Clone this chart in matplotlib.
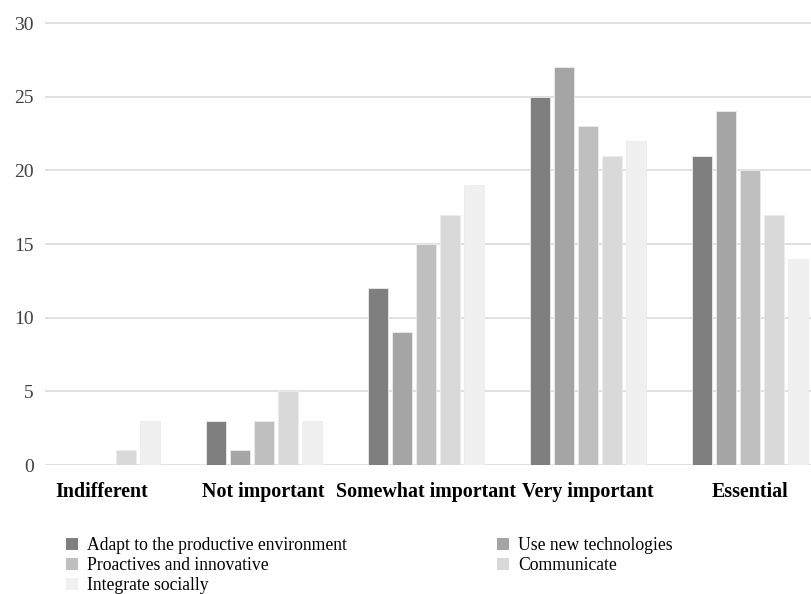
import numpy as np
from matplotlib import pyplot as plt
from matplotlib.patches import Patch

plt.rcParams['font.family'] = ['Liberation Serif', 'DejaVu Serif']

categories = ["Indifferent", "Not important", "Somewhat important", "Very important", "Essential"]

adapt = [0, 3, 12, 25, 21]
use_tech = [0, 1, 9, 27, 24]
proactive = [0, 3, 15, 23, 20]
communicate = [1, 5, 17, 21, 17]
integrate = [3, 3, 19, 22, 14]

series_names = ["Adapt to the productive environment", "Use new technologies",
                "Proactives and innovative", "Communicate", "Integrate socially"]
series_colors = ["#7f7f7f", "#a5a5a5", "#bfbfbf", "#d9d9d9", "#f0f0f0"]


def plot_skills():
    series = [adapt, use_tech, proactive, communicate, integrate]

    fig = plt.figure(figsize=(8.11, 5.94), dpi=100)
    ax = fig.add_axes([45 / 811, 1 - 465 / 594, 1 - 45 / 811, 443 / 594])

    x = np.arange(len(categories))
    step = 0.148
    width = 0.1234
    handles = []
    for k, (vals, name, col) in enumerate(zip(series, series_names, series_colors)):
        ax.bar(x + (k - 2) * step, vals, width=width, color=col,
               edgecolor='#ececec', linewidth=0.6, zorder=3)
        handles.append(Patch(facecolor=col, edgecolor='none', label=name))

    ax.set_xlim(-0.349, 4.375)
    ax.set_ylim(0, 30.07)
    ax.set_yticks(np.arange(0, 31, 5))
    ax.set_xticks(x)
    ax.set_xticklabels(categories, fontsize=14.4, fontweight='bold', color='black')

    ax.grid(axis='y', color='#d9d9d9', linewidth=1.1, zorder=0)
    for s in ax.spines.values():
        s.set_visible(False)
    ax.tick_params(axis='both', length=0)
    ax.tick_params(axis='y', labelsize=14, labelcolor='#404040', pad=8)
    ax.tick_params(axis='x', pad=12)

    # row-major order across two columns
    order = [0, 2, 4, 1, 3]
    fig.legend([handles[i] for i in order], [series_names[i] for i in order],
               loc='upper left', bbox_to_anchor=(66 / 811, 1 - 537 / 594),
               ncol=2, frameon=False, fontsize=12.7, borderpad=0, borderaxespad=0,
               handlelength=0.7, handleheight=0.7, handletextpad=0.5,
               labelspacing=0.17, columnspacing=8.5)

    fig.savefig("out.png", dpi=100)


if __name__ == '__main__':
    plot_skills()
